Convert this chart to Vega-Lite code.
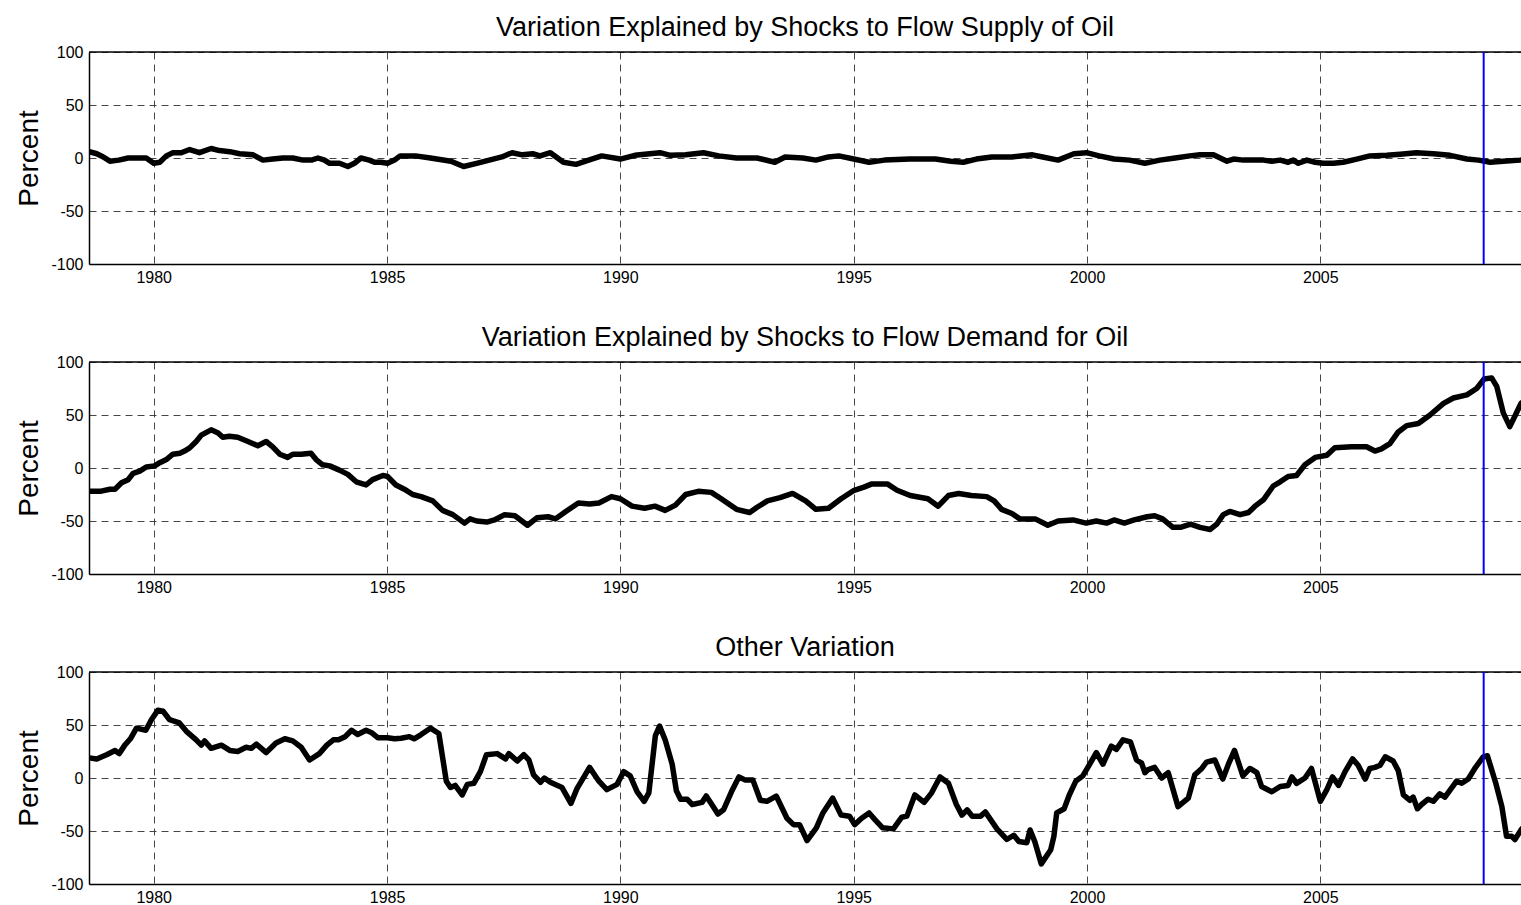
{
  "$schema": "https://vega.github.io/schema/vega-lite/v6.json",
  "padding": {"left": 15, "top": 14, "right": 0, "bottom": 0},
  "background": "white",
  "spacing": 39,
  "config": {
    "font": "Liberation Sans",
    "view": {"stroke": null},
    "axis": {
      "labelFont": "Liberation Sans", "labelFontSize": 16, "labelColor": "black",
      "domainColor": "black", "domainWidth": 1.5, "ticks": false, "tickSize": 0,
      "grid": true, "gridColor": "#333333", "gridDash": [7, 5], "gridWidth": 1, "gridOpacity": 0.9,
      "titleFont": "Liberation Sans", "titleFontSize": 28, "titleFontWeight": "normal", "titleColor": "black",
      "labelExpr": "'' + datum.value"
    },
    "title": {"font": "Liberation Sans", "fontSize": 27, "fontWeight": "normal", "color": "black", "anchor": "middle", "baseline": "alphabetic", "offset": 2}
  },
  "datasets": {
    "supply": [
      {"t":1978.62,"v":6},{"t":1978.78,"v":4},{"t":1978.92,"v":1},{"t":1979.06,"v":-3},{"t":1979.25,"v":-2},{"t":1979.45,"v":0},{"t":1979.84,"v":0},{"t":1980.0,"v":-5},{"t":1980.13,"v":-4},{"t":1980.27,"v":2},{"t":1980.41,"v":5},{"t":1980.59,"v":5},{"t":1980.77,"v":8},{"t":1980.98,"v":5},{"t":1981.23,"v":9},{"t":1981.41,"v":7},{"t":1981.63,"v":6},{"t":1981.84,"v":4},{"t":1982.13,"v":3},{"t":1982.34,"v":-2},{"t":1982.55,"v":-1},{"t":1982.77,"v":0},{"t":1982.98,"v":0},{"t":1983.2,"v":-2},{"t":1983.38,"v":-2},{"t":1983.52,"v":0},{"t":1983.66,"v":-2},{"t":1983.77,"v":-5},{"t":1983.98,"v":-5},{"t":1984.16,"v":-8},{"t":1984.3,"v":-5},{"t":1984.44,"v":0},{"t":1984.62,"v":-2},{"t":1984.73,"v":-4},{"t":1984.87,"v":-4},{"t":1985.01,"v":-5},{"t":1985.16,"v":-2},{"t":1985.28,"v":2},{"t":1985.61,"v":2},{"t":1985.93,"v":0},{"t":1986.37,"v":-3},{"t":1986.64,"v":-8},{"t":1986.92,"v":-5},{"t":1987.19,"v":-2},{"t":1987.46,"v":1},{"t":1987.68,"v":5},{"t":1987.9,"v":3},{"t":1988.12,"v":4},{"t":1988.28,"v":2},{"t":1988.5,"v":5},{"t":1988.78,"v":-4},{"t":1989.05,"v":-6},{"t":1989.32,"v":-2},{"t":1989.6,"v":2},{"t":1990.0,"v":-1},{"t":1990.31,"v":2.5},{"t":1990.63,"v":4},{"t":1990.85,"v":5},{"t":1991.07,"v":2.5},{"t":1991.4,"v":3},{"t":1991.78,"v":5},{"t":1992.11,"v":2},{"t":1992.49,"v":0},{"t":1992.93,"v":0},{"t":1993.31,"v":-4},{"t":1993.53,"v":1},{"t":1993.91,"v":0},{"t":1994.19,"v":-2},{"t":1994.46,"v":1},{"t":1994.68,"v":2},{"t":1995.0,"v":-1},{"t":1995.33,"v":-4},{"t":1995.66,"v":-2},{"t":1996.2,"v":-1},{"t":1996.75,"v":-1},{"t":1997.08,"v":-3},{"t":1997.35,"v":-4},{"t":1997.63,"v":-1},{"t":1997.96,"v":1},{"t":1998.39,"v":1},{"t":1998.83,"v":3},{"t":1999.05,"v":1},{"t":1999.38,"v":-2},{"t":1999.72,"v":4},{"t":1999.99,"v":5},{"t":2000.26,"v":2},{"t":2000.58,"v":-1},{"t":2000.91,"v":-2},{"t":2001.24,"v":-5},{"t":2001.56,"v":-2},{"t":2001.89,"v":0},{"t":2002.2,"v":2},{"t":2002.42,"v":3},{"t":2002.71,"v":3},{"t":2003.0,"v":-3},{"t":2003.14,"v":-1},{"t":2003.35,"v":-2},{"t":2003.56,"v":-2},{"t":2003.78,"v":-2},{"t":2003.96,"v":-3},{"t":2004.14,"v":-2},{"t":2004.31,"v":-4},{"t":2004.42,"v":-2},{"t":2004.53,"v":-5},{"t":2004.71,"v":-2},{"t":2004.89,"v":-4},{"t":2005.06,"v":-5},{"t":2005.28,"v":-5},{"t":2005.49,"v":-4},{"t":2005.78,"v":-1},{"t":2006.06,"v":2},{"t":2006.42,"v":2.5},{"t":2006.71,"v":3.5},{"t":2007.06,"v":5},{"t":2007.42,"v":4},{"t":2007.78,"v":2.5},{"t":2008.14,"v":-1},{"t":2008.39,"v":-2},{"t":2008.64,"v":-4},{"t":2008.92,"v":-3},{"t":2009.28,"v":-2},{"t":2009.4,"v":-1}
    ],
    "demand": [
      {"t":1978.62,"v":-22},{"t":1978.85,"v":-22},{"t":1979.06,"v":-20},{"t":1979.17,"v":-20},{"t":1979.31,"v":-14},{"t":1979.45,"v":-11},{"t":1979.56,"v":-5},{"t":1979.7,"v":-3},{"t":1979.84,"v":1},{"t":1980.02,"v":2},{"t":1980.13,"v":5},{"t":1980.27,"v":8},{"t":1980.41,"v":13},{"t":1980.56,"v":14},{"t":1980.66,"v":16},{"t":1980.77,"v":19},{"t":1980.91,"v":25},{"t":1981.02,"v":31},{"t":1981.23,"v":36},{"t":1981.38,"v":33},{"t":1981.48,"v":29},{"t":1981.62,"v":30},{"t":1981.8,"v":29},{"t":1982.02,"v":25},{"t":1982.23,"v":21},{"t":1982.41,"v":25},{"t":1982.55,"v":20},{"t":1982.7,"v":13},{"t":1982.87,"v":10},{"t":1982.98,"v":13},{"t":1983.16,"v":13},{"t":1983.37,"v":14},{"t":1983.48,"v":8},{"t":1983.62,"v":3},{"t":1983.77,"v":2},{"t":1983.98,"v":-2},{"t":1984.16,"v":-6},{"t":1984.34,"v":-13},{"t":1984.55,"v":-16},{"t":1984.69,"v":-11},{"t":1984.91,"v":-7},{"t":1985.01,"v":-8},{"t":1985.19,"v":-16},{"t":1985.37,"v":-20},{"t":1985.55,"v":-25},{"t":1985.73,"v":-27},{"t":1985.98,"v":-31},{"t":1986.19,"v":-40},{"t":1986.41,"v":-44},{"t":1986.66,"v":-52},{"t":1986.78,"v":-48},{"t":1986.92,"v":-50},{"t":1987.14,"v":-51},{"t":1987.3,"v":-49},{"t":1987.52,"v":-44},{"t":1987.74,"v":-45},{"t":1988.01,"v":-54},{"t":1988.21,"v":-47},{"t":1988.45,"v":-46},{"t":1988.61,"v":-48},{"t":1988.83,"v":-41},{"t":1989.1,"v":-33},{"t":1989.34,"v":-34},{"t":1989.54,"v":-33},{"t":1989.81,"v":-27},{"t":1990.0,"v":-29},{"t":1990.25,"v":-36},{"t":1990.52,"v":-38},{"t":1990.74,"v":-36},{"t":1990.96,"v":-40},{"t":1991.18,"v":-35},{"t":1991.4,"v":-25},{"t":1991.67,"v":-22},{"t":1991.95,"v":-23},{"t":1992.16,"v":-29},{"t":1992.49,"v":-39},{"t":1992.77,"v":-42},{"t":1992.93,"v":-37},{"t":1993.15,"v":-31},{"t":1993.42,"v":-28},{"t":1993.69,"v":-24},{"t":1993.97,"v":-31},{"t":1994.19,"v":-39},{"t":1994.46,"v":-38},{"t":1994.73,"v":-29},{"t":1995.01,"v":-21},{"t":1995.22,"v":-18},{"t":1995.39,"v":-15},{"t":1995.72,"v":-15},{"t":1995.93,"v":-21},{"t":1996.21,"v":-26},{"t":1996.59,"v":-29},{"t":1996.81,"v":-36},{"t":1997.03,"v":-26},{"t":1997.25,"v":-24},{"t":1997.52,"v":-26},{"t":1997.85,"v":-27},{"t":1998.01,"v":-31},{"t":1998.17,"v":-39},{"t":1998.39,"v":-43},{"t":1998.56,"v":-48},{"t":1998.89,"v":-48},{"t":1999.16,"v":-54},{"t":1999.38,"v":-50},{"t":1999.7,"v":-49},{"t":1999.98,"v":-52},{"t":2000.2,"v":-50},{"t":2000.42,"v":-52},{"t":2000.58,"v":-49},{"t":2000.8,"v":-52},{"t":2001.01,"v":-49},{"t":2001.29,"v":-46},{"t":2001.45,"v":-45},{"t":2001.62,"v":-48},{"t":2001.84,"v":-56},{"t":2002.0,"v":-56},{"t":2002.22,"v":-53},{"t":2002.42,"v":-56},{"t":2002.64,"v":-58},{"t":2002.78,"v":-53},{"t":2002.92,"v":-44},{"t":2003.06,"v":-41},{"t":2003.28,"v":-44},{"t":2003.46,"v":-42},{"t":2003.6,"v":-36},{"t":2003.78,"v":-30},{"t":2003.99,"v":-17},{"t":2004.14,"v":-13},{"t":2004.31,"v":-8},{"t":2004.49,"v":-7},{"t":2004.67,"v":3},{"t":2004.89,"v":10},{"t":2005.14,"v":12},{"t":2005.31,"v":19},{"t":2005.67,"v":20},{"t":2005.99,"v":20},{"t":2006.17,"v":16},{"t":2006.31,"v":18},{"t":2006.49,"v":23},{"t":2006.67,"v":34},{"t":2006.85,"v":40},{"t":2007.1,"v":42},{"t":2007.35,"v":50},{"t":2007.64,"v":61},{"t":2007.85,"v":66},{"t":2008.14,"v":69},{"t":2008.35,"v":75},{"t":2008.51,"v":84},{"t":2008.67,"v":85},{"t":2008.78,"v":77},{"t":2008.92,"v":52},{"t":2009.06,"v":39},{"t":2009.17,"v":49},{"t":2009.3,"v":61},{"t":2009.4,"v":64}
    ],
    "other": [
      {"t":1978.62,"v":19},{"t":1978.78,"v":18},{"t":1978.99,"v":22},{"t":1979.17,"v":26},{"t":1979.26,"v":23},{"t":1979.38,"v":31},{"t":1979.5,"v":37},{"t":1979.63,"v":47},{"t":1979.83,"v":45},{"t":1979.95,"v":55},{"t":1980.09,"v":64},{"t":1980.2,"v":63},{"t":1980.34,"v":55},{"t":1980.55,"v":52},{"t":1980.7,"v":44},{"t":1980.91,"v":36},{"t":1981.02,"v":31},{"t":1981.09,"v":35},{"t":1981.23,"v":28},{"t":1981.45,"v":31},{"t":1981.63,"v":26},{"t":1981.8,"v":25},{"t":1981.98,"v":29},{"t":1982.09,"v":28},{"t":1982.2,"v":32},{"t":1982.41,"v":24},{"t":1982.62,"v":33},{"t":1982.81,"v":37},{"t":1982.98,"v":35},{"t":1983.16,"v":29},{"t":1983.34,"v":17},{"t":1983.55,"v":23},{"t":1983.71,"v":31},{"t":1983.85,"v":36},{"t":1983.96,"v":36},{"t":1984.1,"v":39},{"t":1984.24,"v":45},{"t":1984.37,"v":41},{"t":1984.55,"v":45},{"t":1984.66,"v":43},{"t":1984.8,"v":38},{"t":1985.01,"v":38},{"t":1985.16,"v":37},{"t":1985.3,"v":37.5},{"t":1985.48,"v":39},{"t":1985.58,"v":37},{"t":1985.73,"v":41},{"t":1985.93,"v":47},{"t":1986.11,"v":42},{"t":1986.27,"v":-3},{"t":1986.36,"v":-9},{"t":1986.46,"v":-7},{"t":1986.61,"v":-16},{"t":1986.72,"v":-6},{"t":1986.86,"v":-5},{"t":1987.0,"v":6},{"t":1987.13,"v":22},{"t":1987.36,"v":23},{"t":1987.54,"v":18},{"t":1987.61,"v":23},{"t":1987.79,"v":16},{"t":1987.93,"v":22},{"t":1988.04,"v":17},{"t":1988.14,"v":3},{"t":1988.29,"v":-4},{"t":1988.37,"v":0},{"t":1988.5,"v":-4},{"t":1988.75,"v":-9},{"t":1988.94,"v":-24},{"t":1989.07,"v":-10},{"t":1989.34,"v":10},{"t":1989.54,"v":-3},{"t":1989.71,"v":-11},{"t":1989.93,"v":-6},{"t":1990.07,"v":6},{"t":1990.21,"v":2},{"t":1990.36,"v":-13},{"t":1990.51,"v":-22},{"t":1990.61,"v":-14},{"t":1990.75,"v":40},{"t":1990.84,"v":49},{"t":1990.96,"v":36},{"t":1991.11,"v":13},{"t":1991.2,"v":-12},{"t":1991.29,"v":-20},{"t":1991.43,"v":-20},{"t":1991.54,"v":-25},{"t":1991.75,"v":-23},{"t":1991.84,"v":-17},{"t":1991.96,"v":-25},{"t":1992.09,"v":-34},{"t":1992.21,"v":-30},{"t":1992.38,"v":-13},{"t":1992.54,"v":1},{"t":1992.68,"v":-2},{"t":1992.84,"v":-2},{"t":1993.0,"v":-21},{"t":1993.14,"v":-22},{"t":1993.34,"v":-17},{"t":1993.57,"v":-38},{"t":1993.71,"v":-44},{"t":1993.84,"v":-44},{"t":1994.0,"v":-59},{"t":1994.2,"v":-47},{"t":1994.34,"v":-33},{"t":1994.55,"v":-19},{"t":1994.73,"v":-35},{"t":1994.91,"v":-36},{"t":1995.02,"v":-44},{"t":1995.17,"v":-38},{"t":1995.33,"v":-33},{"t":1995.45,"v":-39},{"t":1995.62,"v":-47},{"t":1995.85,"v":-48},{"t":1996.03,"v":-37},{"t":1996.14,"v":-36},{"t":1996.31,"v":-16},{"t":1996.51,"v":-23},{"t":1996.67,"v":-14},{"t":1996.85,"v":1},{"t":1997.03,"v":-5},{"t":1997.2,"v":-25},{"t":1997.32,"v":-35},{"t":1997.43,"v":-30},{"t":1997.54,"v":-36},{"t":1997.72,"v":-36},{"t":1997.82,"v":-32},{"t":1998.07,"v":-48},{"t":1998.28,"v":-58},{"t":1998.43,"v":-54},{"t":1998.54,"v":-60},{"t":1998.71,"v":-61},{"t":1998.78,"v":-49},{"t":1998.88,"v":-60},{"t":1999.02,"v":-81},{"t":1999.22,"v":-68},{"t":1999.29,"v":-55},{"t":1999.35,"v":-33},{"t":1999.51,"v":-29},{"t":1999.62,"v":-16},{"t":1999.76,"v":-3},{"t":1999.91,"v":2},{"t":2000.03,"v":11},{"t":2000.2,"v":24},{"t":2000.34,"v":13},{"t":2000.52,"v":30},{"t":2000.63,"v":27},{"t":2000.77,"v":36},{"t":2000.93,"v":34},{"t":2001.06,"v":17},{"t":2001.17,"v":14},{"t":2001.24,"v":5},{"t":2001.31,"v":8},{"t":2001.45,"v":10},{"t":2001.6,"v":0},{"t":2001.74,"v":5},{"t":2001.95,"v":-27},{"t":2002.17,"v":-19},{"t":2002.31,"v":3},{"t":2002.46,"v":9},{"t":2002.56,"v":15},{"t":2002.74,"v":17},{"t":2002.91,"v":-1},{"t":2003.03,"v":13},{"t":2003.16,"v":26},{"t":2003.34,"v":2},{"t":2003.49,"v":9},{"t":2003.64,"v":5},{"t":2003.74,"v":-8},{"t":2003.96,"v":-13},{"t":2004.14,"v":-8},{"t":2004.31,"v":-7},{"t":2004.39,"v":1},{"t":2004.49,"v":-5},{"t":2004.67,"v":0},{"t":2004.81,"v":9},{"t":2005.0,"v":-22},{"t":2005.14,"v":-11},{"t":2005.26,"v":1},{"t":2005.39,"v":-7},{"t":2005.53,"v":6},{"t":2005.69,"v":18},{"t":2005.81,"v":12},{"t":2005.96,"v":-1},{"t":2006.06,"v":9},{"t":2006.17,"v":10},{"t":2006.28,"v":12},{"t":2006.39,"v":20},{"t":2006.56,"v":16},{"t":2006.67,"v":7},{"t":2006.78,"v":-16},{"t":2006.92,"v":-21},{"t":2006.99,"v":-18},{"t":2007.08,"v":-29},{"t":2007.17,"v":-25},{"t":2007.31,"v":-20},{"t":2007.42,"v":-22},{"t":2007.56,"v":-15},{"t":2007.67,"v":-18},{"t":2007.92,"v":-3},{"t":2008.03,"v":-5},{"t":2008.17,"v":-1},{"t":2008.31,"v":9},{"t":2008.49,"v":20},{"t":2008.58,"v":21},{"t":2008.76,"v":-5},{"t":2008.89,"v":-27},{"t":2008.99,"v":-55},{"t":2009.1,"v":-55},{"t":2009.17,"v":-58},{"t":2009.3,"v":-49},{"t":2009.4,"v":-44}
    ],
    "marker": [{"label": "top"}]
  },
  "vconcat": [
    {
      "width": 1432, "height": 212,
      "title": {"text": "Variation Explained by Shocks to Flow Supply of Oil"},
      "layer": [
        {"data": {"name": "supply"}, "mark": {"type": "line", "color": "black", "strokeWidth": 5.5, "clip": true, "strokeJoin": "round"},
         "encoding": {
           "x": {"field": "t", "type": "quantitative", "scale": {"domain": [1978.613, 2009.3], "nice": false, "zero": false}, "axis": {"values": [1980, 1985, 1990, 1995, 2000, 2005], "title": null, "labelPadding": 5}},
           "y": {"field": "v", "type": "quantitative", "scale": {"domain": [-100, 100], "nice": false}, "axis": {"values": [-100, -50, 0, 50, 100], "title": "Percent", "labelPadding": 6, "titlePadding": 7}}
         }},
        {"data": {"name": "marker"}, "mark": {"type": "rule", "color": "black", "strokeWidth": 1.5}, "encoding": {"y": {"datum": 100}}},
        {"data": {"name": "marker"}, "mark": {"type": "rule", "color": "#0000ff", "strokeWidth": 2}, "encoding": {"x": {"datum": 2008.5}}}
      ]
    },
    {
      "width": 1432, "height": 212,
      "title": {"text": "Variation Explained by Shocks to Flow Demand for Oil"},
      "layer": [
        {"data": {"name": "demand"}, "mark": {"type": "line", "color": "black", "strokeWidth": 5.5, "clip": true, "strokeJoin": "round"},
         "encoding": {
           "x": {"field": "t", "type": "quantitative", "scale": {"domain": [1978.613, 2009.3], "nice": false, "zero": false}, "axis": {"values": [1980, 1985, 1990, 1995, 2000, 2005], "title": null, "labelPadding": 5}},
           "y": {"field": "v", "type": "quantitative", "scale": {"domain": [-100, 100], "nice": false}, "axis": {"values": [-100, -50, 0, 50, 100], "title": "Percent", "labelPadding": 6, "titlePadding": 7}}
         }},
        {"data": {"name": "marker"}, "mark": {"type": "rule", "color": "black", "strokeWidth": 1.5}, "encoding": {"y": {"datum": 100}}},
        {"data": {"name": "marker"}, "mark": {"type": "rule", "color": "#0000ff", "strokeWidth": 2}, "encoding": {"x": {"datum": 2008.5}}}
      ]
    },
    {
      "width": 1432, "height": 212,
      "title": {"text": "Other Variation"},
      "layer": [
        {"data": {"name": "other"}, "mark": {"type": "line", "color": "black", "strokeWidth": 5.5, "clip": true, "strokeJoin": "round"},
         "encoding": {
           "x": {"field": "t", "type": "quantitative", "scale": {"domain": [1978.613, 2009.3], "nice": false, "zero": false}, "axis": {"values": [1980, 1985, 1990, 1995, 2000, 2005], "title": null, "labelPadding": 5}},
           "y": {"field": "v", "type": "quantitative", "scale": {"domain": [-100, 100], "nice": false}, "axis": {"values": [-100, -50, 0, 50, 100], "title": "Percent", "labelPadding": 6, "titlePadding": 7}}
         }},
        {"data": {"name": "marker"}, "mark": {"type": "rule", "color": "black", "strokeWidth": 1.5}, "encoding": {"y": {"datum": 100}}},
        {"data": {"name": "marker"}, "mark": {"type": "rule", "color": "#0000ff", "strokeWidth": 2}, "encoding": {"x": {"datum": 2008.5}}}
      ]
    }
  ]
}
